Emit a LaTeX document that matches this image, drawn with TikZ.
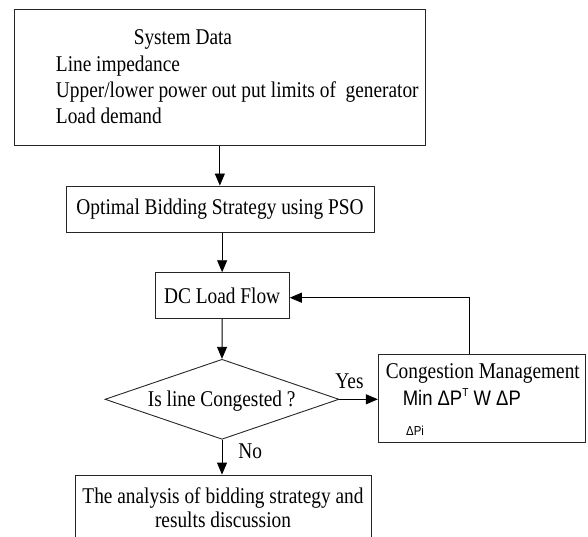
\documentclass[tikz,border=0pt]{standalone}
\usepackage{fontspec}
\setmainfont{Liberation Serif}[FakeStretch=0.86]
\newfontfamily\arialf{Liberation Sans}[FakeStretch=0.88]
\usetikzlibrary{arrows.meta,shapes.geometric}
\begin{document}
\begin{tikzpicture}[x=1pt,y=-1pt,
  line width=0.9pt,
  >={Triangle[length=12pt,width=10pt]},
  every node/.style={font=\fontsize{22.5}{26}\selectfont, inner sep=0pt},
  boxst/.style={draw=black!85, rectangle},
  txt/.style={anchor=base west},
  flow/.style={->, draw=black}]
\useasboundingbox (0,0) rectangle (588,537);
\clip (0,0) rectangle (588,537);

% boxes
\node[boxst, minimum width=411.7pt, minimum height=136.4pt] (sys) at (219.85,77.5) {};
\node[txt] (sysT) at (133.3,45) {System Data};
\node[txt] (sysA) at (55.5,71.5) {Line impedance};
\node[txt] (sysB) at (55.5,97.5) {Upper/lower power out put limits of~ generator};
\node[txt] (sysC) at (55.5,123.5) {Load demand};

\node[boxst, minimum width=308pt, minimum height=46.3pt] (pso) at (220,209.15) {Optimal Bidding Strategy using PSO};

\node[boxst, minimum width=134.3pt, minimum height=45.6pt] (dc) at (222.15,295.5) {DC Load Flow};

\node[draw=black!85, diamond, aspect=2.925, minimum width=234pt, minimum height=80pt] (dia) at (222,399.3) {};
\node[anchor=base] (diaT) at (221.7,406.5) {Is line Congested ?};

\node[boxst, minimum width=207.4pt, minimum height=88.3pt] (cm) at (482,398.15) {};
\node[anchor=base] (cmT) at (482.8,378.3) {Congestion Management};
\node[txt, font=\arialf\fontsize{21}{25}\selectfont] (cmF) at (402.3,405)
  {Min ΔP\raisebox{8.5pt}{\fontsize{11.5}{12}\selectfont T} W ΔP};
\node[txt, font=\arialf\fontsize{13}{15}\selectfont] (cmS) at (405.7,435) {ΔPi};

\node[boxst, minimum width=296.3pt, minimum height=90pt] (res) at (223.55,520) {};
\node[anchor=base] (res1) at (223,503.3) {The analysis of bidding strategy and};
\node[anchor=base] (res2) at (223,527.5) {results discussion};

% labels
\node[txt] (yes) at (335,388.3) {Yes};
\node[txt] (no) at (238,458.5) {No};

% connectors
\draw[flow] (sys.south) -- (sys.south |- pso.north);
\draw[flow] (dc.north |- pso.south) -- (dc.north);
\draw[flow] (dc.south) -- (dia.north);
\draw[flow] (dia.east) -- (dia.east -| cm.west);
\draw[flow] (dia.south) -- (dia.south |- res.north);
\coordinate (fb) at (469.3,297.7);
\draw[flow] (fb |- cm.north) -- (fb) -- (fb -| dc.east);
\end{tikzpicture}
\end{document}
